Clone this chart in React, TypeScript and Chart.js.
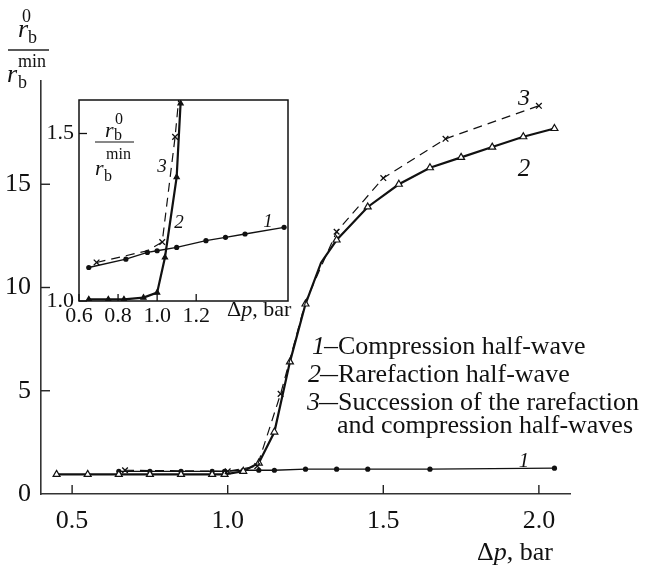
import { useEffect, useRef } from "react";
import { Chart, registerables } from "chart.js";

Chart.register(...registerables);

// ---- main panel: r_b^0 / r_b^min versus Δp (bar) ----
const compX = [0.65, 0.75, 0.85, 0.95, 0.99, 1.05, 1.1, 1.15, 1.25, 1.35, 1.45, 1.65, 2.05];
const compY = [1.1, 1.1, 1.1, 1.1, 1.1, 1.15, 1.15, 1.15, 1.2, 1.2, 1.2, 1.2, 1.25];

const rareX = [0.45, 0.55, 0.65, 0.75, 0.85, 0.95, 0.99, 1.05, 1.1, 1.15, 1.2, 1.25, 1.3, 1.35, 1.45, 1.55, 1.65, 1.75, 1.85, 1.95, 2.05];
const rareY = [0.95, 0.95, 0.95, 0.95, 0.95, 0.95, 0.95, 1.1, 1.5, 3.0, 6.4, 9.2, 11.2, 12.3, 13.9, 15.0, 15.8, 16.3, 16.8, 17.3, 17.7];
const rareUnmarked = [12];

const succX = [0.67, 1.0, 1.095, 1.17, 1.25, 1.35, 1.5, 1.7, 2.0];
const succY = [1.15, 1.1, 1.35, 4.85, 9.3, 12.7, 15.3, 17.2, 18.8];
const succUnmarked = [4];

// ---- inset: the region near the threshold ----
const insetCompX = [0.65, 0.84, 0.95, 1.0, 1.1, 1.25, 1.35, 1.45, 1.65];
const insetCompY = [1.1, 1.125, 1.145, 1.15, 1.16, 1.18, 1.19, 1.2, 1.22];

const insetRareX = [0.65, 0.75, 0.83, 0.93, 1.0, 1.04, 1.1, 1.12];
const insetRareY = [1.005, 1.005, 1.005, 1.01, 1.025, 1.13, 1.37, 1.59];

const insetSuccX = [0.69, 0.95, 1.026, 1.092, 1.11];
const insetSuccY = [1.115, 1.15, 1.176, 1.49, 1.6];
const insetSuccUnmarked = [1, 4];

const mainXTicks = [0.5, 1.0, 1.5, 2.0];
const mainYTicks = [0, 5, 10, 15];
const insetXTicks = [0.6, 0.8, 1.0, 1.2];
const insetYTicks = [1.0, 1.5];

const legendNumbers = ["1", "2", "3"];
const legendLines = [
  "Compression half-wave",
  "Rarefaction half-wave",
  "Succession of the rarefaction",
  "and compression half-waves",
];

const SERIF = '"Liberation Serif", "Times New Roman", serif';
const INK = "#111";
const up = (s: number) => `${s}px ${SERIF}`;
const it = (s: number) => `italic ${s}px ${SERIF}`;

const pts = (xs: number[], ys: number[]) => xs.map((x, i) => ({ x, y: ys[i] }));
const radii = (n: number, r: number, skip: number[] = []) =>
  Array.from({ length: n }, (_, i) => (skip.includes(i) ? 0 : r));

function runs(ctx: CanvasRenderingContext2D, x: number, y: number, parts: [string, string][]) {
  let cx = x;
  for (const [t, f] of parts) {
    ctx.font = f;
    ctx.fillText(t, cx, y);
    cx += ctx.measureText(t).width;
  }
}

function hline(ctx: CanvasRenderingContext2D, x0: number, x1: number, y: number, w: number) {
  ctx.beginPath();
  ctx.lineWidth = w;
  ctx.moveTo(x0, y);
  ctx.lineTo(x1, y);
  ctx.stroke();
}

const mainDecor = {
  id: "mainDecor",
  afterDraw(chart: any) {
    const { ctx, chartArea } = chart;
    const xs = chart.scales.x;
    const ys = chart.scales.y;
    ctx.save();
    ctx.strokeStyle = "#222";
    ctx.fillStyle = INK;
    ctx.lineWidth = 1.4;
    // inward tick marks
    for (const v of mainXTicks) {
      const px = xs.getPixelForValue(v);
      ctx.beginPath();
      ctx.moveTo(px, chartArea.bottom);
      ctx.lineTo(px, chartArea.bottom - 9);
      ctx.stroke();
    }
    for (const v of mainYTicks) {
      if (v === 0) continue;
      const py = ys.getPixelForValue(v);
      ctx.beginPath();
      ctx.moveTo(chartArea.left, py);
      ctx.lineTo(chartArea.left + 9, py);
      ctx.stroke();
    }

    ctx.textAlign = "left";
    ctx.textBaseline = "alphabetic";
    // y-axis quantity: r_b^0 / r_b^min
    ctx.font = up(18);
    ctx.fillText("0", 22, 22);
    ctx.font = it(26);
    ctx.fillText("r", 18, 37);
    ctx.font = up(18);
    ctx.fillText("b", 28, 43);
    hline(ctx, 8, 49, 50, 1.5);
    ctx.font = up(18);
    ctx.fillText("min", 18, 67);
    ctx.font = it(26);
    ctx.fillText("r", 7, 82);
    ctx.font = up(18);
    ctx.fillText("b", 18, 88);

    // x-axis quantity
    runs(ctx, 477, 560, [["Δ", up(26)], ["p", it(26)], [", bar", up(26)]]);

    // key
    const rows = [354, 382, 410];
    const numRight = [325, 321, 320];
    const dashStart = [324, 320, 319];
    rows.forEach((y, i) => {
      ctx.font = it(26);
      ctx.textAlign = "right";
      ctx.fillText(legendNumbers[i], numRight[i], y);
      ctx.textAlign = "left";
      ctx.font = up(26);
      ctx.fillText("—", dashStart[i], y, 338 - dashStart[i]);
      ctx.fillText(legendLines[i], 338, y);
    });
    ctx.font = up(26);
    ctx.fillText(legendLines[3], 337, 433);

    // curve numbers
    ctx.textAlign = "center";
    ctx.textBaseline = "middle";
    ctx.font = it(21);
    ctx.fillText("1", 524, 461);
    ctx.font = it(25);
    ctx.fillText("2", 524, 169);
    ctx.font = it(24);
    ctx.fillText("3", 524, 99);
    ctx.restore();
  },
};

const insetDecor = {
  id: "insetDecor",
  afterDraw(chart: any) {
    const { ctx, chartArea } = chart;
    const xs = chart.scales.x;
    const ys = chart.scales.y;
    ctx.save();
    ctx.strokeStyle = "#111";
    ctx.fillStyle = INK;
    ctx.lineWidth = 1.5;
    ctx.strokeRect(chartArea.left, chartArea.top, chartArea.right - chartArea.left, chartArea.bottom - chartArea.top);
    ctx.lineWidth = 1.3;
    for (const v of insetXTicks) {
      const px = xs.getPixelForValue(v);
      ctx.beginPath();
      ctx.moveTo(px, chartArea.bottom);
      ctx.lineTo(px, chartArea.bottom - 7);
      ctx.stroke();
    }
    for (const v of insetYTicks) {
      const py = ys.getPixelForValue(v);
      ctx.beginPath();
      ctx.moveTo(chartArea.left, py);
      ctx.lineTo(chartArea.left + 8, py);
      ctx.stroke();
    }

    ctx.textAlign = "left";
    ctx.textBaseline = "alphabetic";
    ctx.font = up(16);
    ctx.fillText("0", 115, 124);
    ctx.font = it(22);
    ctx.fillText("r", 105, 137);
    ctx.font = up(16);
    ctx.fillText("b", 114, 140);
    hline(ctx, 95, 134, 142, 1);
    ctx.font = up(16);
    ctx.fillText("min", 106, 159);
    ctx.font = it(22);
    ctx.fillText("r", 95, 175);
    ctx.font = up(16);
    ctx.fillText("b", 104, 181);

    runs(ctx, 227, 316, [["Δ", up(22)], ["p", it(22)], [", bar", up(22)]]);

    ctx.textAlign = "center";
    ctx.textBaseline = "middle";
    ctx.font = it(19);
    ctx.fillText("1", 268, 222);
    ctx.fillText("2", 179, 223);
    ctx.fillText("3", 162, 167);
    ctx.restore();
  },
};

function seriesSets(
  c: { x: number[]; y: number[] },
  r: { x: number[]; y: number[]; skip: number[] },
  s: { x: number[]; y: number[]; skip: number[] },
  inset: boolean
) {
  return [
    {
      data: pts(c.x, c.y),
      showLine: true,
      borderColor: INK,
      borderWidth: 1.3,
      pointStyle: "circle",
      pointRadius: 2.6,
      pointBackgroundColor: INK,
      pointBorderColor: INK,
      pointBorderWidth: 0,
      order: 2,
    },
    {
      data: pts(r.x, r.y),
      showLine: true,
      borderColor: INK,
      borderWidth: 2.2,
      pointStyle: "triangle",
      pointRadius: radii(r.x.length, inset ? 3 : 4, r.skip),
      pointBackgroundColor: inset ? INK : "#fff",
      pointBorderColor: INK,
      pointBorderWidth: 1.2,
      order: 1,
    },
    {
      data: pts(s.x, s.y),
      showLine: true,
      borderColor: INK,
      borderWidth: 1.2,
      borderDash: [9, 6],
      pointStyle: "crossRot",
      pointRadius: radii(s.x.length, 4, s.skip),
      pointBorderColor: INK,
      pointBorderWidth: 1.3,
      order: 0,
    },
  ];
}

export default function App() {
  const mainRef = useRef<HTMLCanvasElement>(null);
  const insetRef = useRef<HTMLCanvasElement>(null);

  useEffect(() => {
    if (!mainRef.current || !insetRef.current) return;

    const main = new Chart(mainRef.current, {
      type: "scatter",
      data: {
        datasets: seriesSets(
          { x: compX, y: compY },
          { x: rareX, y: rareY, skip: rareUnmarked },
          { x: succX, y: succY, skip: succUnmarked },
          false
        ) as any,
      },
      options: {
        responsive: false,
        animation: false,
        devicePixelRatio: 1,
        events: [],
        layout: { padding: { left: 0, top: 81, right: 76, bottom: 0 } },
        plugins: { legend: { display: false }, tooltip: { enabled: false } },
        scales: {
          x: {
            type: "linear",
            min: 0.4,
            max: 2.1,
            afterBuildTicks: (s: any) => {
              s.ticks = mainXTicks.map((value) => ({ value }));
            },
            afterFit: (s: any) => {
              s.height = 76;
            },
            grid: { display: false, drawTicks: false },
            border: { display: true, color: "#333", width: 1.6 },
            ticks: {
              font: { family: SERIF, size: 26 },
              color: INK,
              padding: 12,
              maxRotation: 0,
              callback: (v: any) => Number(v).toFixed(1),
            },
          },
          y: {
            type: "linear",
            min: 0,
            max: 20,
            afterBuildTicks: (s: any) => {
              s.ticks = mainYTicks.map((value) => ({ value }));
            },
            afterFit: (s: any) => {
              s.width = 41;
            },
            grid: { display: false, drawTicks: false },
            border: { display: true, color: "#333", width: 1.6 },
            ticks: {
              font: { family: SERIF, size: 26 },
              color: INK,
              padding: 10,
              callback: (v: any) => String(v),
            },
          },
        },
      },
      plugins: [mainDecor],
    });

    const inset = new Chart(insetRef.current, {
      type: "scatter",
      data: {
        datasets: seriesSets(
          { x: insetCompX, y: insetCompY },
          { x: insetRareX, y: insetRareY, skip: [] },
          { x: insetSuccX, y: insetSuccY, skip: insetSuccUnmarked },
          true
        ) as any,
      },
      options: {
        responsive: false,
        animation: false,
        devicePixelRatio: 1,
        events: [],
        layout: { padding: { left: 0, top: 100, right: 358, bottom: 0 } },
        plugins: { legend: { display: false }, tooltip: { enabled: false } },
        scales: {
          x: {
            type: "linear",
            min: 0.6,
            max: 1.67,
            afterBuildTicks: (s: any) => {
              s.ticks = insetXTicks.map((value) => ({ value }));
            },
            afterFit: (s: any) => {
              s.height = 269;
            },
            grid: { display: false, drawTicks: false },
            border: { display: false },
            ticks: {
              font: { family: SERIF, size: 22 },
              color: INK,
              padding: 2,
              maxRotation: 0,
              callback: (v: any) => Number(v).toFixed(1),
            },
          },
          y: {
            type: "linear",
            min: 1.0,
            max: 1.6,
            afterBuildTicks: (s: any) => {
              s.ticks = insetYTicks.map((value) => ({ value }));
            },
            afterFit: (s: any) => {
              s.width = 79;
            },
            grid: { display: false, drawTicks: false },
            border: { display: false },
            ticks: {
              font: { family: SERIF, size: 22 },
              color: INK,
              padding: 5,
              callback: (v: any) => Number(v).toFixed(1),
            },
          },
        },
      },
      plugins: [insetDecor],
    });

    return () => {
      main.destroy();
      inset.destroy();
    };
  }, []);

  return (
    <div style={{ position: "absolute", left: 0, top: 0, width: 646, height: 570, background: "#fff" }}>
      <canvas ref={mainRef} width={646} height={570} style={{ position: "absolute", left: 0, top: 0 }} />
      <canvas ref={insetRef} width={646} height={570} style={{ position: "absolute", left: 0, top: 0 }} />
    </div>
  );
}
